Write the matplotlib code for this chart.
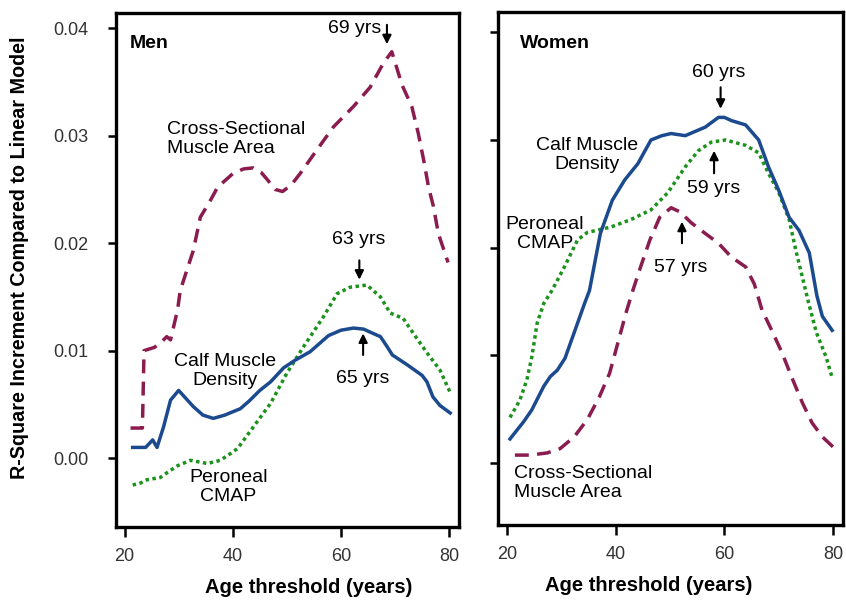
import matplotlib
matplotlib.use('Agg')
import matplotlib.pyplot as plt

plt.rcParams['font.family'] = ['Liberation Sans', 'DejaVu Sans']

# Men: R-square increment vs. age threshold
men_csa_age = [21.1, 23.3, 23.6, 25.5, 26.6, 27.8, 28.5, 29.8, 30.3, 32.7, 34.0,
               35.9, 37.2, 40.1, 42.0, 43.8, 45.2, 46.4, 47.8, 49.2, 50.8, 52.5,
               55.6, 58.6, 62.3, 65.4, 67.8, 69.4, 71.3, 73.1, 74.3, 75.3, 76.2,
               77.1, 78.0, 79.8]
men_csa = [0.0028, 0.0028, 0.0100, 0.0103, 0.0107, 0.0113, 0.0110, 0.0138, 0.0156,
           0.0193, 0.0224, 0.0240, 0.0252, 0.0265, 0.0269, 0.0270, 0.0266, 0.0259,
           0.0250, 0.0248, 0.0254, 0.0265, 0.0287, 0.0308, 0.0327, 0.0345, 0.0367,
           0.0378, 0.0347, 0.0327, 0.0302, 0.0277, 0.0252, 0.0234, 0.0209, 0.0182]

men_cmd_age = [21.5, 23.9, 25.2, 26.0, 27.2, 28.5, 30.0, 32.7, 34.5, 36.4, 38.5,
               41.4, 43.0, 45.0, 47.0, 49.4, 51.5, 54.3, 57.7, 60.0, 62.3, 64.2,
               65.5, 67.3, 68.5, 69.5, 72.2, 75.0, 75.9, 77.0, 78.3, 80.2]
men_cmd = [0.0010, 0.0010, 0.0017, 0.0010, 0.0029, 0.0054, 0.0063, 0.0048, 0.0040,
           0.0037, 0.0040, 0.0046, 0.0053, 0.0063, 0.0071, 0.0084, 0.0091, 0.0099,
           0.0114, 0.0119, 0.0121, 0.0120, 0.0117, 0.0113, 0.0104, 0.0096, 0.0087,
           0.0077, 0.0071, 0.0057, 0.0049, 0.0042]

men_cmap_age = [21.5, 23.0, 24.2, 26.6, 28.0, 29.8, 32.2, 35.3, 37.7, 39.5, 40.9,
                43.8, 47.0, 50.0, 53.0, 56.7, 59.3, 61.7, 64.8, 67.3, 69.1, 71.5,
                73.4, 75.9, 78.3, 80.2]
men_cmap = [-0.0025, -0.0023, -0.0020, -0.0018, -0.0013, -0.0007, -0.0002, -0.0005,
            -0.0002, 0.0004, 0.0009, 0.0029, 0.0051, 0.0079, 0.0103, 0.0131, 0.0153,
            0.0159, 0.0161, 0.0150, 0.0135, 0.0130, 0.0116, 0.0098, 0.0082, 0.0061]

# Women
wom_cmd_age = [20.6, 22.0, 23.1, 24.6, 26.8, 28.0, 29.3, 30.7, 32.4, 34.3, 35.2,
               37.2, 39.4, 41.7, 44.1, 46.5, 48.5, 50.2, 52.8, 56.5, 58.9, 60.0,
               61.3, 63.9, 66.3, 68.1, 70.0, 71.9, 73.7, 75.6, 77.0, 78.0, 79.8]
wom_cmd = [0.0022, 0.0031, 0.0038, 0.0049, 0.0071, 0.0080, 0.0086, 0.0097, 0.0121,
           0.0148, 0.0160, 0.0213, 0.0244, 0.0263, 0.0278, 0.0300, 0.0304, 0.0306,
           0.0304, 0.0312, 0.0321, 0.0321, 0.0318, 0.0314, 0.0300, 0.0275, 0.0253,
           0.0228, 0.0216, 0.0195, 0.0155, 0.0136, 0.0123]

wom_cmap_age = [20.6, 22.4, 23.7, 24.6, 25.6, 26.8, 28.3, 30.6, 33.0, 34.8, 39.1,
                42.8, 46.5, 49.6, 52.8, 55.2, 57.6, 60.2, 63.9, 66.3, 68.1, 70.0,
                71.9, 73.1, 74.3, 75.4, 76.9, 78.7, 79.8]
wom_cmap = [0.0042, 0.0058, 0.0077, 0.0098, 0.0130, 0.0148, 0.0160, 0.0182, 0.0207,
            0.0214, 0.0219, 0.0226, 0.0235, 0.0251, 0.0275, 0.0290, 0.0298, 0.0300,
            0.0295, 0.0288, 0.0269, 0.0251, 0.0226, 0.0198, 0.0173, 0.0150, 0.0121,
            0.0098, 0.0079]

wom_csa_age = [21.5, 24.3, 27.4, 29.8, 32.4, 34.8, 37.0, 38.9, 40.4, 41.9, 43.1,
               44.6, 46.3, 48.1, 50.2, 51.9, 53.9, 56.5, 58.9, 61.3, 63.9, 65.5,
               66.9, 68.7, 70.6, 72.4, 74.3, 76.1, 78.0, 80.5]
wom_csa = [0.0007, 0.0007, 0.0009, 0.0013, 0.0024, 0.0040, 0.0061, 0.0083, 0.0111,
           0.0139, 0.0159, 0.0182, 0.0207, 0.0228, 0.0237, 0.0233, 0.0223, 0.0213,
           0.0204, 0.0191, 0.0182, 0.0166, 0.0142, 0.0123, 0.0102, 0.0079, 0.0056,
           0.0037, 0.0024, 0.0012]

xticks = [20, 40, 60, 80]
yticks = [0.00, 0.01, 0.02, 0.03, 0.04]
ytick_labels = ['0.00', '0.01', '0.02', '0.03', '0.04']

C_CSA = '#8a1c4f'
C_CMD = '#1c4a8e'
C_CMAP = '#1b921b'
LW = 2.5
FS_TXT = 14
FS_TICK = 13

fig = plt.figure(figsize=(8.46, 6.0), dpi=100)
ax0 = fig.add_axes([0.137, 0.1217, 0.4054, 0.8566])
ax1 = fig.add_axes([0.5887, 0.125, 0.4078, 0.855])


def style_ax(ax, ylim, show_labels, xlab_x):
    ax.set_xlim(18.4, 81.8)
    ax.set_ylim(*ylim)
    ax.set_xticks(xticks)
    ax.set_xticklabels([str(t) for t in xticks])
    ax.set_yticks(yticks)
    if show_labels:
        ax.set_yticklabels(ytick_labels)
    else:
        ax.set_yticklabels([])
    for sp in ax.spines.values():
        sp.set_linewidth(2.4)
    ax.tick_params(axis='both', direction='out', width=1.8, colors='black',
                   labelcolor='#333333', labelsize=FS_TICK)
    ax.tick_params(axis='x', length=7, pad=8)
    ax.tick_params(axis='y', length=6, pad=14)
    ax.set_xlabel('Age threshold (years)', fontsize=14.5, fontweight='bold',
                  va='center')
    ax.xaxis.set_label_coords(xlab_x, -0.117)


def arrow(ax, x, y_from, y_to):
    ax.annotate('', xy=(x, y_to), xytext=(x, y_from),
                arrowprops=dict(arrowstyle='-|>', color='black', lw=1.5,
                                mutation_scale=13, shrinkA=0, shrinkB=0))


# Men panel
ax0.plot(men_csa_age, men_csa, color=C_CSA, lw=LW, linestyle=(0, (4, 2.4)))
ax0.plot(men_cmap_age, men_cmap, color=C_CMAP, lw=LW, linestyle=(0, (1, 1.0)))
ax0.plot(men_cmd_age, men_cmd, color=C_CMD, lw=LW)
style_ax(ax0, (-0.0064, 0.0414), True, 0.563)

ax0.text(21.0, 0.0386, 'Men', fontsize=14, fontweight='bold', va='center')
ax0.text(27.9, 0.0297, 'Cross-Sectional\nMuscle Area', fontsize=FS_TXT,
         va='center', ha='left', linespacing=1.15)
ax0.text(38.6, 0.0081, 'Calf Muscle\nDensity', fontsize=FS_TXT,
         va='center', ha='center', linespacing=1.15)
ax0.text(39.2, -0.0027, 'Peroneal\nCMAP', fontsize=FS_TXT,
         va='center', ha='center', linespacing=1.15)
ax0.text(67.5, 0.0400, '69 yrs', fontsize=FS_TXT, va='center', ha='right')
arrow(ax0, 68.5, 0.0403, 0.0385)
ax0.text(63.2, 0.0203, '63 yrs', fontsize=FS_TXT, va='center', ha='center')
arrow(ax0, 63.4, 0.0184, 0.0166)
ax0.text(64.1, 0.0074, '65 yrs', fontsize=FS_TXT, va='center', ha='center')
arrow(ax0, 64.1, 0.0096, 0.0116)

# Women panel
ax1.plot(wom_csa_age, wom_csa, color=C_CSA, lw=LW, linestyle=(0, (4, 2.4)))
ax1.plot(wom_cmap_age, wom_cmap, color=C_CMAP, lw=LW, linestyle=(0, (1, 1.0)))
ax1.plot(wom_cmd_age, wom_cmd, color=C_CMD, lw=LW)
style_ax(ax1, (-0.0058, 0.0419), False, 0.438)

ax1.text(22.4, 0.0390, 'Women', fontsize=14, fontweight='bold', va='center')
ax1.text(34.8, 0.0286, 'Calf Muscle\nDensity', fontsize=FS_TXT,
         va='center', ha='center', linespacing=1.15)
ax1.text(27.0, 0.0213, 'Peroneal\nCMAP', fontsize=FS_TXT,
         va='center', ha='center', linespacing=1.15)
ax1.text(21.3, -0.0019, 'Cross-Sectional\nMuscle Area', fontsize=FS_TXT,
         va='center', ha='left', linespacing=1.15)
ax1.text(58.9, 0.0363, '60 yrs', fontsize=FS_TXT, va='center', ha='center')
arrow(ax1, 59.3, 0.0349, 0.0329)
ax1.text(58.0, 0.0255, '59 yrs', fontsize=FS_TXT, va='center', ha='center')
arrow(ax1, 58.1, 0.0269, 0.0290)
ax1.text(52.0, 0.0181, '57 yrs', fontsize=FS_TXT, va='center', ha='center')
arrow(ax1, 52.2, 0.0204, 0.0224)

fig.text(20 / 846, 0.57, 'R-Square Increment Compared to Linear Model',
         rotation=90, fontsize=14.2, fontweight='bold', va='center', ha='center')

fig.savefig('out.png', dpi=100)
